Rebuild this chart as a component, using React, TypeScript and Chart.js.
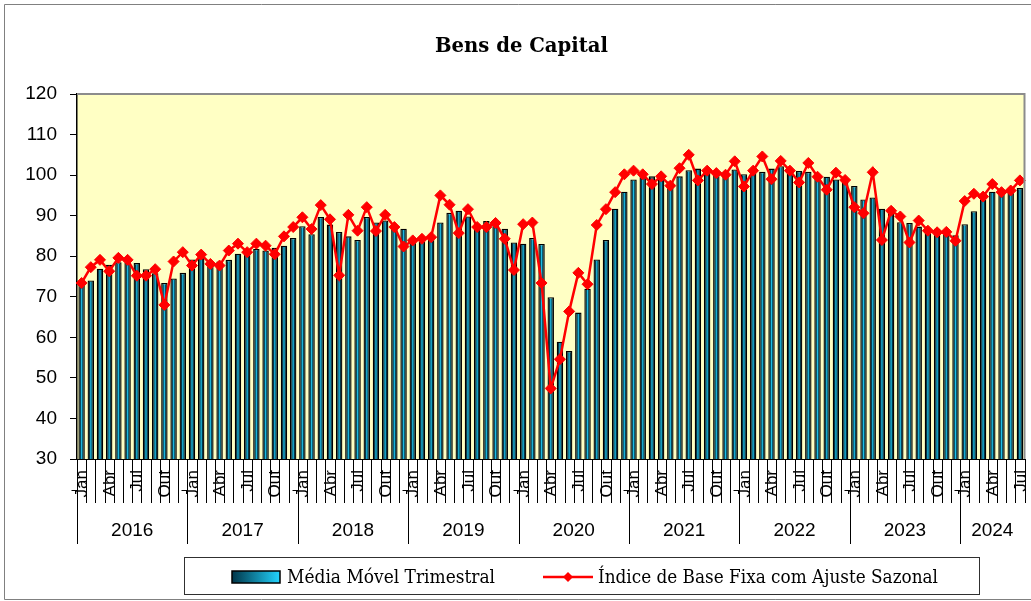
import React, { useEffect, useRef } from "react";
import { Chart, registerables } from "chart.js";

Chart.register(...registerables);

const years = ["2016", "2017", "2018", "2019", "2020", "2021", "2022", "2023", "2024"];
const monthNames = ["Jan", "Fev", "Mar", "Abr", "Mai", "Jun", "Jul", "Ago", "Set", "Out", "Nov", "Dez"];
const shownMonths = ["Jan", "Abr", "Jul", "Out"];
const yTicks = [30, 40, 50, 60, 70, 80, 90, 100, 110, 120];

const titleText = "Bens de Capital";
const barLabel = "Média Móvel Trimestral";
const lineLabel = "Índice de Base Fixa com Ajuste Sazonal";

// Média Móvel Trimestral (bars), Jan 2016 .. Jul 2024
const mediaMovel = [
  73.0, 74.0, 76.9, 77.9, 78.5, 78.4, 78.3, 76.8, 75.8, 73.4, 74.5, 75.9,
  79.2, 79.8, 78.3, 78.7, 79.1, 80.6, 80.8, 81.8, 81.4, 82.1, 82.6, 84.5,
  87.4, 85.4, 89.7, 87.8, 86.0, 84.9, 84.0, 89.7, 88.3, 88.8, 87.0, 86.8,
  84.5, 83.5, 84.0, 88.3, 90.7, 91.2, 89.8, 88.0, 88.7, 88.4, 86.8, 83.4,
  83.1, 84.5, 83.0, 69.9, 58.9, 56.6, 66.1, 72.0, 79.2, 84.0, 91.7, 95.9,
  98.9, 100.2, 99.7, 99.2, 98.4, 99.7, 101.2, 101.6, 101.3, 100.5, 100.6, 101.4,
  100.2, 100.6, 100.8, 101.6, 102.2, 101.2, 101.0, 100.8, 100.1, 99.6, 98.9, 98.4,
  97.3, 94.0, 94.5, 91.7, 92.0, 88.4, 88.2, 87.3, 86.2, 86.8, 86.1, 85.2,
  87.9, 91.1, 94.0, 95.9, 95.5, 95.8, 96.8,
];

// Índice de Base Fixa com Ajuste Sazonal (line)
const indiceSA = [
  73.4, 77.3, 79.1, 76.3, 79.6, 79.1, 75.2, 75.2, 76.8, 68.0, 78.7, 81.0,
  77.7, 80.4, 78.1, 77.7, 81.4, 83.1, 81.0, 83.1, 82.6, 80.5, 84.9, 87.2,
  89.6, 86.7, 92.6, 89.1, 75.3, 90.2, 86.3, 92.1, 86.2, 90.2, 87.2, 82.4,
  83.9, 84.3, 84.7, 95.0, 92.7, 85.7, 91.6, 87.2, 87.2, 88.2, 84.3, 76.6,
  87.9, 88.3, 73.4, 47.4, 54.6, 66.4, 75.9, 73.1, 87.7, 91.6, 95.8, 100.2,
  101.1, 100.2, 97.8, 99.7, 97.4, 101.7, 105.0, 98.7, 101.1, 100.5, 100.1, 103.4,
  97.2, 101.1, 104.6, 99.0, 103.5, 101.1, 98.2, 103.0, 99.6, 96.4, 100.6, 98.8,
  92.1, 90.6, 100.7, 84.0, 91.2, 89.8, 83.4, 88.8, 86.3, 85.9, 86.0, 83.8,
  93.6, 95.4, 94.7, 97.8, 95.8, 96.2, 98.7,
];

const categories: string[] = [];
years.forEach((y) => monthNames.forEach((m) => categories.push(m + " " + y)));
categories.length = mediaMovel.length;

const W = 1031;
const H = 601;

function fitText(ctx: CanvasRenderingContext2D, text: string, x: number, y: number, width: number) {
  const m = ctx.measureText(text).width;
  ctx.save();
  ctx.translate(x, y);
  ctx.scale(width / m, 1);
  ctx.textAlign = "left";
  ctx.fillText(text, 0, 0);
  ctx.restore();
}

const decorPlugin = {
  id: "decor",
  beforeDraw(chart: any) {
    const { ctx, chartArea: a } = chart;
    ctx.save();
    ctx.fillStyle = "#ffffff";
    ctx.fillRect(0, 0, chart.width, chart.height);
    ctx.fillStyle = "#ffffc4";
    ctx.fillRect(a.left, a.top, a.right - a.left, a.bottom - a.top);
    ctx.restore();
  },
  afterDraw(chart: any) {
    const { ctx, chartArea: a } = chart;
    const xs = chart.scales.x;
    const n = categories.length;
    const step = xs.getPixelForValue(1) - xs.getPixelForValue(0);
    ctx.save();
    // plot border top/right
    ctx.strokeStyle = "#8c8c8c";
    ctx.lineWidth = 2;
    ctx.beginPath();
    ctx.moveTo(a.left, a.top);
    ctx.lineTo(a.right, a.top);
    ctx.lineTo(a.right, a.bottom);
    ctx.stroke();

    // separators
    ctx.strokeStyle = "#000000";
    ctx.lineWidth = 1;
    for (let i = 0; i <= n; i++) {
      const bx = Math.round(xs.getPixelForValue(i) - step / 2) + 0.5;
      const isYear = i % 12 === 0;
      ctx.beginPath();
      ctx.moveTo(bx, a.bottom);
      ctx.lineTo(bx, isYear ? a.bottom + 85 : a.bottom + 44);
      ctx.stroke();
      if (isYear && i < n) {
        ctx.beginPath();
        ctx.moveTo(bx - 6, a.bottom + 31.5);
        ctx.lineTo(bx, a.bottom + 31.5);
        ctx.stroke();
      }
    }

    // month labels
    ctx.fillStyle = "#000000";
    ctx.font = "17px 'Liberation Sans', Arial, sans-serif";
    for (let i = 0; i < n; i++) {
      const m = monthNames[i % 12];
      if (!shownMonths.includes(m)) continue;
      const x = xs.getPixelForValue(i);
      ctx.save();
      ctx.translate(x + 1, a.bottom + 11);
      ctx.rotate(-Math.PI / 2);
      ctx.textAlign = "right";
      ctx.textBaseline = "middle";
      ctx.fillText(m, 0, 0);
      ctx.restore();
    }

    // year labels
    ctx.font = "19px 'Liberation Sans', Arial, sans-serif";
    ctx.textAlign = "center";
    ctx.textBaseline = "middle";
    years.forEach((y, k) => {
      const s = k * 12;
      if (s >= n) return;
      const e = Math.min(s + 12, n);
      const x0 = xs.getPixelForValue(s) - step / 2;
      const x1 = e >= n ? a.right : xs.getPixelForValue(e) - step / 2;
      ctx.fillText(y, (x0 + x1) / 2, a.bottom + 72);
    });

    // title
    ctx.font = "bold 20px 'DejaVu Serif', serif";
    ctx.textBaseline = "alphabetic";
    fitText(ctx, titleText, 435, 52, 173);

    // legend
    ctx.strokeStyle = "#303030";
    ctx.lineWidth = 1;
    ctx.strokeRect(184.5, 557.5, 795, 37);
    // bar icon
    const g = ctx.createLinearGradient(232, 0, 280, 0);
    g.addColorStop(0, "#003548");
    g.addColorStop(1, "#22d4ff");
    ctx.fillStyle = g;
    ctx.fillRect(232, 571, 48, 12);
    ctx.strokeStyle = "#000000";
    ctx.lineWidth = 1.5;
    ctx.strokeRect(232, 571, 48, 12);
    ctx.fillStyle = "#000000";
    ctx.font = "19px 'DejaVu Serif', serif";
    ctx.textBaseline = "alphabetic";
    fitText(ctx, barLabel, 287, 583, 208);
    // line icon
    ctx.strokeStyle = "#ff0000";
    ctx.lineWidth = 2.5;
    ctx.beginPath();
    ctx.moveTo(543, 577);
    ctx.lineTo(593, 577);
    ctx.stroke();
    ctx.fillStyle = "#ff0000";
    ctx.beginPath();
    ctx.moveTo(568, 572);
    ctx.lineTo(573, 577);
    ctx.lineTo(568, 582);
    ctx.lineTo(563, 577);
    ctx.closePath();
    ctx.fill();
    ctx.fillStyle = "#000000";
    fitText(ctx, lineLabel, 598, 583, 340);

    // outer frame
    ctx.strokeStyle = "#808080";
    ctx.lineWidth = 1;
    ctx.beginPath();
    ctx.moveTo(W + 2, 4.5);
    ctx.lineTo(4.5, 4.5);
    ctx.lineTo(4.5, H - 1.5);
    ctx.lineTo(W + 2, H - 1.5);
    ctx.stroke();
    ctx.restore();
  },
};

export default function App() {
  const ref = useRef<HTMLCanvasElement | null>(null);
  useEffect(() => {
    if (!ref.current) return;
    const chart = new Chart(ref.current, {
      type: "bar",
      data: {
        labels: categories,
        datasets: [
          {
            type: "bar",
            label: barLabel,
            data: mediaMovel,
            order: 2,
            barPercentage: 0.7,
            categoryPercentage: 1.0,
            borderColor: "#000000",
            borderWidth: 1.3,
            backgroundColor: (c: any) => {
              const chart = c.chart;
              const xs = chart.scales && chart.scales.x;
              if (!xs || c.dataIndex === undefined) return "#063040";
              const x = xs.getPixelForValue(c.dataIndex);
              const step = xs.getPixelForValue(1) - xs.getPixelForValue(0);
              const half = (step * 0.7) / 2;
              if (!isFinite(x) || !isFinite(half) || half <= 0) return "#063040";
              const gr = chart.ctx.createLinearGradient(x - half, 0, x + half, 0);
              gr.addColorStop(0, "#000000");
              gr.addColorStop(0.3, "#02384a");
              gr.addColorStop(0.5, "#1fc0e8");
              gr.addColorStop(0.7, "#02384a");
              gr.addColorStop(1, "#000000");
              return gr;
            },
          } as any,
          {
            type: "line",
            label: lineLabel,
            data: indiceSA,
            order: 1,
            borderColor: "#ff0000",
            borderWidth: 2.5,
            pointStyle: "rectRot",
            pointRadius: 5.5,
            pointBackgroundColor: "#ff0000",
            pointBorderColor: "#ff0000",
            pointBorderWidth: 1,
            tension: 0,
          } as any,
        ],
      },
      options: {
        responsive: false,
        animation: false,
        layout: { padding: { left: 0, right: 3, top: 94, bottom: 0 } },
        plugins: {
          legend: { display: false },
          title: { display: false },
          tooltip: { enabled: false },
        },
        scales: {
          x: {
            type: "category",
            offset: true,
            grid: { display: false },
            ticks: { display: false },
            border: { display: true, color: "#000000", width: 1 },
            afterFit: (s: any) => {
              s.height = H - 459;
            },
          },
          y: {
            min: yTicks[0],
            max: yTicks[yTicks.length - 1],
            afterBuildTicks: (s: any) => {
              s.ticks = yTicks.map((v) => ({ value: v }));
            },
            grid: {
              drawOnChartArea: false,
              drawTicks: true,
              tickLength: 7,
              color: "#000000",
            },
            border: { display: true, color: "#000000", width: 1.5 },
            ticks: {
              color: "#000000",
              padding: 13,
              font: { family: "'Liberation Sans', Arial, sans-serif", size: 19 },
            },
            afterFit: (s: any) => {
              s.width = 77;
            },
          },
        },
      },
      plugins: [decorPlugin],
    });
    return () => chart.destroy();
  }, []);
  return (
    <div style={{ position: "absolute", left: 0, top: 0, width: W, height: H, background: "#fff" }}>
      <canvas ref={ref} width={W} height={H} style={{ display: "block", width: W, height: H }} />
    </div>
  );
}
